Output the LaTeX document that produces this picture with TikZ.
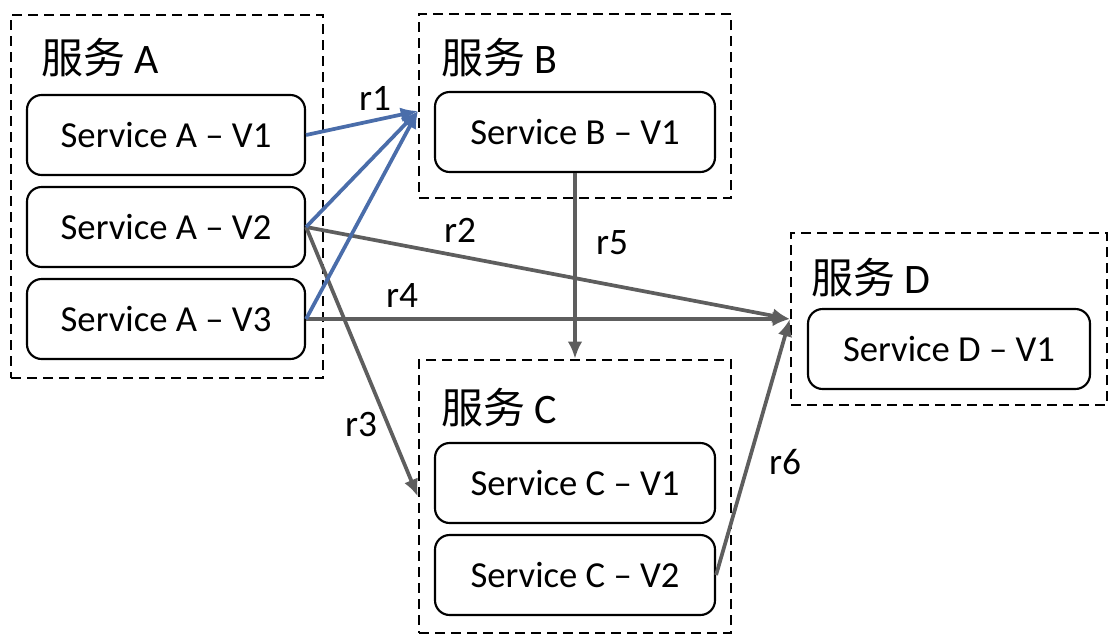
\documentclass[tikz,border=0pt]{standalone}
\usepackage{fontspec}
\setmainfont{Carlito}
\newfontfamily\cjk{Noto Sans CJK SC}
\usetikzlibrary{arrows.meta}
\definecolor{arrblue}{HTML}{4A6DAA}
\definecolor{arrgray}{HTML}{5E5E5E}
\tikzset{
  svc/.style={draw, line width=1.6pt, rounded corners=11pt, minimum height=60pt, inner sep=0pt,
    font=\fontsize{27.5}{33}\selectfont},
  grp/.style={draw, line width=1.7pt, dash pattern=on 7.5pt off 4.5pt, inner sep=0pt},
  glabel/.style={anchor=west, inner sep=0pt, font=\fontsize{31.5}{38}\selectfont},
  rlabel/.style={inner sep=0pt, font=\fontsize{28}{34}\selectfont},
  barr/.style={draw=arrblue, line width=2.8pt, -{Latex[length=13pt,width=11pt]}, fill=arrblue},
  garr/.style={draw=arrgray, line width=2.8pt, -{Latex[length=13pt,width=11pt]}, fill=arrgray},
}
\begin{document}
\begin{tikzpicture}[x=0.75pt,y=-0.75pt]
\useasboundingbox (0,0) rectangle (1109,636);
% groups
\node[grp, minimum width=234pt, minimum height=272.25pt] (gA) at (167,196.5) {};
\node[grp, minimum width=234pt, minimum height=138pt] (gB) at (575,106) {};
\node[grp, minimum width=237pt, minimum height=129pt] (gD) at (949,319) {};
\node[grp, minimum width=234pt, minimum height=204.75pt] (gC) at (575,496.5) {};
\node[glabel] (lA) at (41,58) {{\cjk 服务} A};
\node[glabel] (lB) at (441,58) {{\cjk 服务} B};
\node[glabel] (lD) at (811,278) {{\cjk 服务} D};
\node[glabel] (lC) at (441,408) {{\cjk 服务} C};
% services
\node[svc, minimum width=208.5pt] (A1) at (166,135) {Service A – V1};
\node[svc, minimum width=208.5pt] (A2) at (166,227) {Service A – V2};
\node[svc, minimum width=208.5pt] (A3) at (166,319) {Service A – V3};
\node[svc, minimum width=210pt] (B1) at (575,132) {Service B – V1};
\node[svc, minimum width=210pt] (C1) at (575,483) {Service C – V1};
\node[svc, minimum width=210pt] (C2) at (575,575) {Service C – V2};
\node[svc, minimum width=211.5pt] (D1) at (949,349) {Service D – V1};
\coordinate (bIn) at (418,111);
% arrows
\draw[garr] (A2.east) -- (gD.west);
\draw[garr] (A3.east) -- (gD.west);
\draw[garr] (A2.east) -- (gC.west);
\draw[garr] (B1.south) -- (gC.north);
\draw[garr] (C2.east) -- (gD.west);
\draw[barr] (A1.east) -- (bIn);
\draw[barr] (A2.east) -- (bIn);
\draw[barr] (A3.east) -- (bIn);
% labels
\node[rlabel] (r1) at (375,98) {r1};
\node[rlabel] (r2) at (460,230) {r2};
\node[rlabel] (r3) at (361,425) {r3};
\node[rlabel] (r4) at (402,296) {r4};
\node[rlabel] (r5) at (612,243) {r5};
\node[rlabel] (r6) at (785,462) {r6};
\end{tikzpicture}
\end{document}
